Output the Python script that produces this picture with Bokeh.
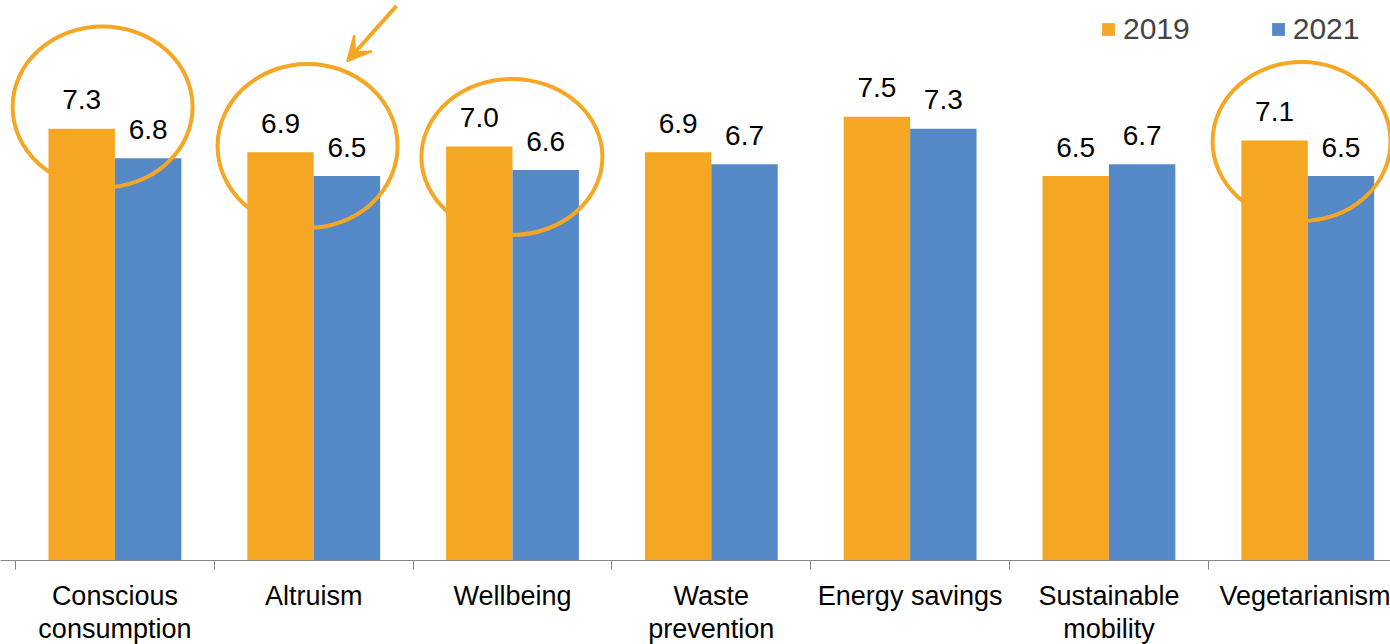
from bokeh.plotting import figure
from bokeh.models import (ColumnDataSource, Range1d, FixedTicker, Legend, LegendItem,
                          Arrow, VeeHead)
from bokeh.core.properties import value
from bokeh.embed import file_html
from bokeh.resources import INLINE
import numpy as np

# Survey scores by behaviour, two waves
categories = ["Conscious\nconsumption", "Altruism", "Wellbeing", "Waste\nprevention",
              "Energy savings", "Sustainable\nmobility", "Vegetarianism"]
scores_2019 = [7.3, 6.9, 7.0, 6.9, 7.5, 6.5, 7.1]
scores_2021 = [6.8, 6.5, 6.6, 6.7, 7.3, 6.7, 6.5]
series_names = ["2019", "2021"]

ORANGE = "#F5A623"
BLUE = "#5588C7"
AXIS_GREY = "#868686"
FONT = "Liberation Sans"

idx = np.arange(len(categories))
bar_w = 0.334
src = ColumnDataSource(dict(
    x19=idx - bar_w / 2, x21=idx + bar_w / 2,
    v19=scores_2019, v21=scores_2021,
    t19=[f"{v:.1f}" for v in scores_2019], t21=[f"{v:.1f}" for v in scores_2021],
))

p = figure(frame_width=1390, frame_height=560,
           x_range=Range1d(-0.5755, 6.4163), y_range=Range1d(0, 9.467),
           output_backend="svg", toolbar_location=None,
           min_border_left=0, min_border_right=0, min_border_top=0, min_border_bottom=0)
p.outline_line_color = None
p.grid.visible = False
p.yaxis.visible = False
p.background_fill_color = "white"
p.border_fill_color = "white"

r19 = p.vbar(x="x19", top="v19", width=bar_w, source=src, fill_color=ORANGE, line_color=None)
r21 = p.vbar(x="x21", top="v21", width=bar_w, source=src, fill_color=BLUE, line_color=None)

# value labels above each bar
for xcol, vcol, tcol in (("x19", "v19", "t19"), ("x21", "v21", "t21")):
    p.text(x=xcol, y=vcol, text=tcol, source=src, y_offset=-29,
           text_align="center", text_baseline="alphabetic",
           text_font=value(FONT), text_font_size="28px", text_color="black")

# x axis: separators between groups as minor ticks, names at group centres
ax = p.xaxis[0]
ax.ticker = FixedTicker(ticks=list(idx), minor_ticks=[i - 0.5 for i in range(len(categories) + 1)])
ax.major_label_overrides = {int(i): c for i, c in zip(idx, categories)}
ax.major_tick_out = 0
ax.major_tick_in = 0
ax.minor_tick_out = 9
ax.minor_tick_in = 0
ax.minor_tick_line_color = AXIS_GREY
ax.axis_line_color = AXIS_GREY
ax.major_label_standoff = 11
ax.major_label_text_font = FONT
ax.major_label_text_font_size = "27px"
ax.major_label_text_color = "black"
ax.major_label_text_line_height = 1.1

# highlight rings around selected groups
rings_x = [-0.062, 0.969, 1.997, 5.969]
rings_y = [7.667, 7.008, 6.822, 7.084]
rings_w = [180, 180, 181, 178]
rings_h = [161, 164, 156, 159]
p.ellipse(x=rings_x, y=rings_y, width=rings_w, height=rings_h,
          width_units="screen", height_units="screen",
          fill_color=None, line_color=ORANGE, line_width=4)

p.add_layout(Arrow(x_start=1.4165, y_start=9.375, x_end=1.168, y_end=8.44,
                   line_color=ORANGE, line_width=4,
                   end=VeeHead(size=24, fill_color=ORANGE, line_color=ORANGE, line_width=2)))

legend = Legend(items=[LegendItem(label=series_names[0], renderers=[r19]),
                       LegendItem(label=series_names[1], renderers=[r21])],
                orientation="horizontal", location=(1100, 514),
                padding=0, margin=0, spacing=80, label_standoff=7,
                glyph_width=16, glyph_height=16,
                label_text_font=FONT, label_text_font_size="30px",
                border_line_color=None, background_fill_alpha=0)
p.add_layout(legend)

open("out.html", "w").write(file_html(p, INLINE))
